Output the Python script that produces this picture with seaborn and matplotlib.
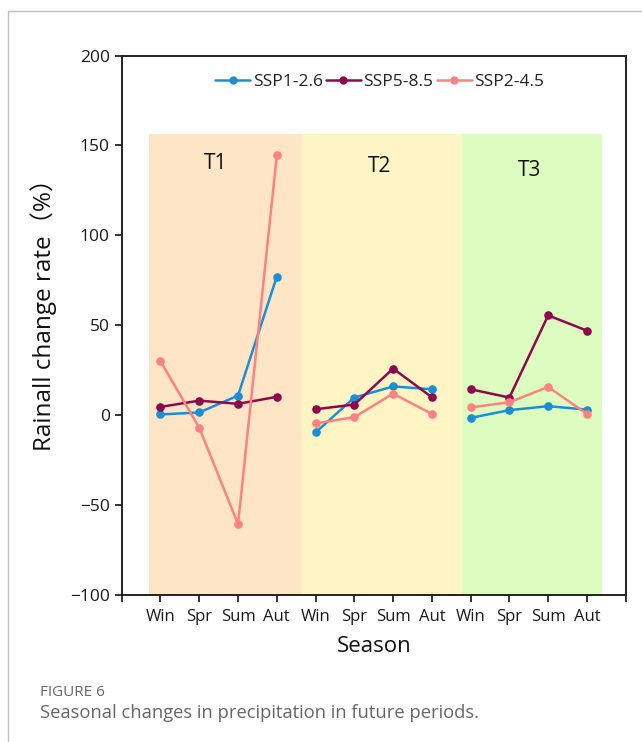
import matplotlib
matplotlib.use("Agg")
import matplotlib.pyplot as plt
from matplotlib.lines import Line2D
import seaborn as sns
import pandas as pd
import numpy as np

seasons = ["Win", "Spr", "Sum", "Aut"]
periods = ["T1", "T2", "T3"]
scenarios = ["SSP1-2.6", "SSP5-8.5", "SSP2-4.5"]
colors = ["#1b8fd6", "#8c0a4c", "#ff8282"]

ssp126 = [0.4, 1.5, 10.9, 77.0, -9.6, 9.8, 16.0, 14.4, -1.5, 2.8, 5.0, 3.1]
ssp585 = [4.6, 8.1, 6.3, 10.2, 3.3, 5.9, 25.9, 10.0, 14.4, 9.8, 55.5, 47.0]
ssp245 = [30.0, -7.0, -60.6, 144.4, -4.6, -1.1, 12.0, 0.7, 4.3, 7.2, 15.7, 0.7]

period_bg = ["#fee5c5", "#fff4c4", "#ddfcc0"]
period_edges = [0.70, 4.66, 8.77, 12.39]
period_top = 156.5

sns.set_theme(style="white")
plt.rcParams["font.family"] = ["Open Sans", "Noto Sans CJK SC", "DejaVu Sans"]

rows = []
for name, vals in zip(scenarios, [ssp126, ssp585, ssp245]):
    for i, v in enumerate(vals):
        rows.append({"x": i + 1, "value": v, "scenario": name,
                     "period": periods[i // 4], "season": seasons[i % 4]})
df = pd.DataFrame(rows)

fig = plt.figure(figsize=(6.42, 7.42), dpi=100)
ax = fig.add_axes([0.1896, 0.1981, 0.9746 - 0.1896, 0.9252 - 0.1981])

for k in range(3):
    ax.axvspan(period_edges[k], period_edges[k + 1], ymin=0,
               ymax=(period_top + 100) / 300, color=period_bg[k], lw=0, zorder=0)

sns.lineplot(data=df, x="x", y="value", hue="scenario", hue_order=scenarios,
             units="period", estimator=None, palette=colors, marker="o",
             markersize=6.2, markeredgewidth=0, linewidth=1.8, ax=ax, legend=False,
             zorder=3)

label_pos = [(2.42, 140), (6.66, 138), (10.53, 136)]
for p, (lx, ly) in zip(periods, label_pos):
    ax.text(lx, ly, p, fontsize=15, ha="center", va="center", color="#111111")

ax.set_xlim(0, 13)
ax.set_ylim(-100, 200)
ax.set_xticks(range(0, 14))
ax.set_xticklabels([""] + seasons * 3 + [""], fontsize=12, color="#1a1a1a")
ax.set_yticks([-100, -50, 0, 50, 100, 150, 200])
ax.tick_params(axis="y", labelsize=12.5, labelcolor="#1a1a1a")
ax.tick_params(axis="x", pad=5)
ax.tick_params(axis="both", direction="out", length=5, width=1.3,
               color="#222222", bottom=True, left=True)
for s in ax.spines.values():
    s.set_visible(True)
    s.set_color("#222222")
    s.set_linewidth(1.4)

ax.set_xlabel("Season", fontsize=16, color="#111111", labelpad=8)
ax.set_ylabel("Rainall change rate（%）", fontsize=17.5, color="#111111")
ax.yaxis.set_label_coords(-0.128, 0.53)

handles = [Line2D([0], [0], color=c, lw=1.8, marker="o", markersize=6,
                  markeredgewidth=0) for c in colors]
ax.legend(handles, scenarios, loc="upper center", bbox_to_anchor=(0.512, 0.995),
          ncol=3, frameon=False, fontsize=12.5, handlelength=2.0,
          handletextpad=0.15, columnspacing=0.2, labelcolor="#222222")

fig.text(40 / 642, 1 - 692 / 742, "FIGURE 6", fontsize=11, color="#666666",
         va="center", ha="left")
fig.text(40 / 642, 1 - 713 / 742,
         "Seasonal changes in precipitation in future periods.",
         fontsize=13.2, color="#666666", va="center", ha="left")

fig.add_artist(Line2D([7.5 / 642, 7.5 / 642], [0, 1 - 11 / 742],
                      transform=fig.transFigure, color="#c0c0c0", lw=1))
fig.add_artist(Line2D([7.5 / 642, 1], [1 - 11 / 742, 1 - 11 / 742],
                      transform=fig.transFigure, color="#c0c0c0", lw=1))

fig.savefig("out.png", dpi=100)
